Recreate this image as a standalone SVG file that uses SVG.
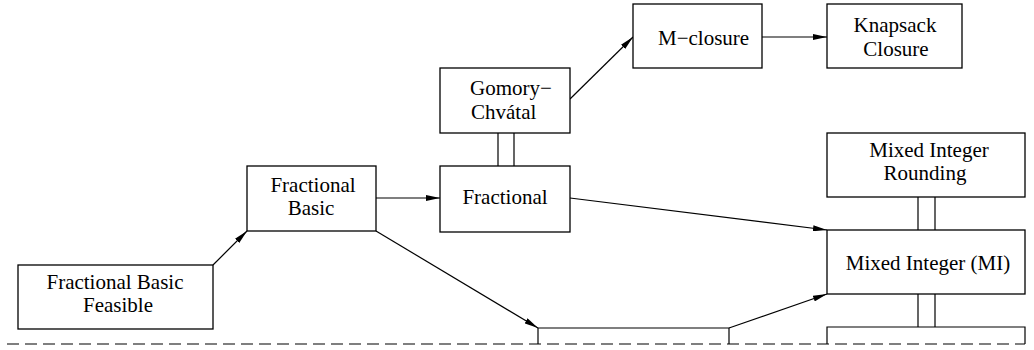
<svg xmlns="http://www.w3.org/2000/svg" width="1034" height="350" viewBox="0 0 1034 350">
<style>
.box{fill:#fff;stroke:#000;stroke-width:1.3}
.t{font-family:"Liberation Serif","Times New Roman",serif;font-size:21px;fill:#000;text-anchor:middle}
.ts{font-family:"Liberation Serif","Times New Roman",serif;font-size:21px;fill:#000;text-anchor:start}
.c{stroke:#000;stroke-width:1.2;fill:none}
.a{stroke:#000;stroke-width:1.2;fill:none;marker-end:url(#ah)}
.d{stroke:#000;stroke-width:1.2;fill:none;stroke-dasharray:12 6}
</style>
<defs>
<marker id="ah" viewBox="0 0 14 6" refX="14" refY="3" markerWidth="14" markerHeight="6" markerUnits="userSpaceOnUse" orient="auto">
<path d="M0,0 L14,3 L0,6 z" fill="#000"/>
</marker>
</defs>
<rect width="1034" height="350" fill="#fff"/>
<g id="connectors">
<line class="a" x1="213" y1="265" x2="247" y2="231"/>
<line class="a" x1="376" y1="198" x2="440" y2="198"/>
<line class="a" x1="376" y1="231" x2="538" y2="328"/>
<line class="a" x1="729" y1="328" x2="827" y2="294"/>
<line class="a" x1="570" y1="198" x2="827" y2="230"/>
<line class="a" x1="570" y1="99" x2="633" y2="37"/>
<line class="a" x1="762" y1="37" x2="827" y2="37"/>
<path class="c" d="M498,133 V166 M514,133 V166"/>
<path class="c" d="M918,197 V230 M935,197 V230"/>
<path class="c" d="M918,294 V327 M935,294 V327"/>
<path class="c" d="M538,344 V328 H729 V344"/>
<path class="c" d="M827,344 V327 H1025 V344"/>
<line class="d" x1="7" y1="344" x2="1025" y2="344"/>
</g>
<g id="fbf">
<rect class="box" x="18" y="265" width="195" height="64"/>
<text class="t" x="115" y="289">Fractional Basic</text>
<text class="t" x="118" y="312">Feasible</text>
</g>
<g id="fb">
<rect class="box" x="247" y="166" width="129" height="65"/>
<text class="t" x="313" y="192">Fractional</text>
<text class="t" x="311" y="215">Basic</text>
</g>
<g id="fractional">
<rect class="box" x="440" y="166" width="130" height="66"/>
<text class="t" x="505" y="204">Fractional</text>
</g>
<g id="gc">
<rect class="box" x="440" y="68" width="130" height="65"/>
<text class="ts" x="470" y="95">Gomory−</text>
<text class="ts" x="471" y="119">Chvátal</text>
</g>
<g id="mclosure">
<rect class="box" x="633" y="4" width="129" height="64"/>
<text class="ts" x="658" y="45">M−closure</text>
</g>
<g id="knapsack">
<rect class="box" x="827" y="4" width="135" height="64"/>
<text class="t" x="895" y="32">Knapsack</text>
<text class="t" x="896" y="56">Closure</text>
</g>
<g id="mir">
<rect class="box" x="827" y="133" width="198" height="64"/>
<text class="t" x="929" y="157">Mixed Integer</text>
<text class="t" x="925" y="180">Rounding</text>
</g>
<g id="mi">
<rect class="box" x="827" y="230" width="198" height="64"/>
<text class="t" x="928" y="270">Mixed Integer (MI)</text>
</g>
</svg>
